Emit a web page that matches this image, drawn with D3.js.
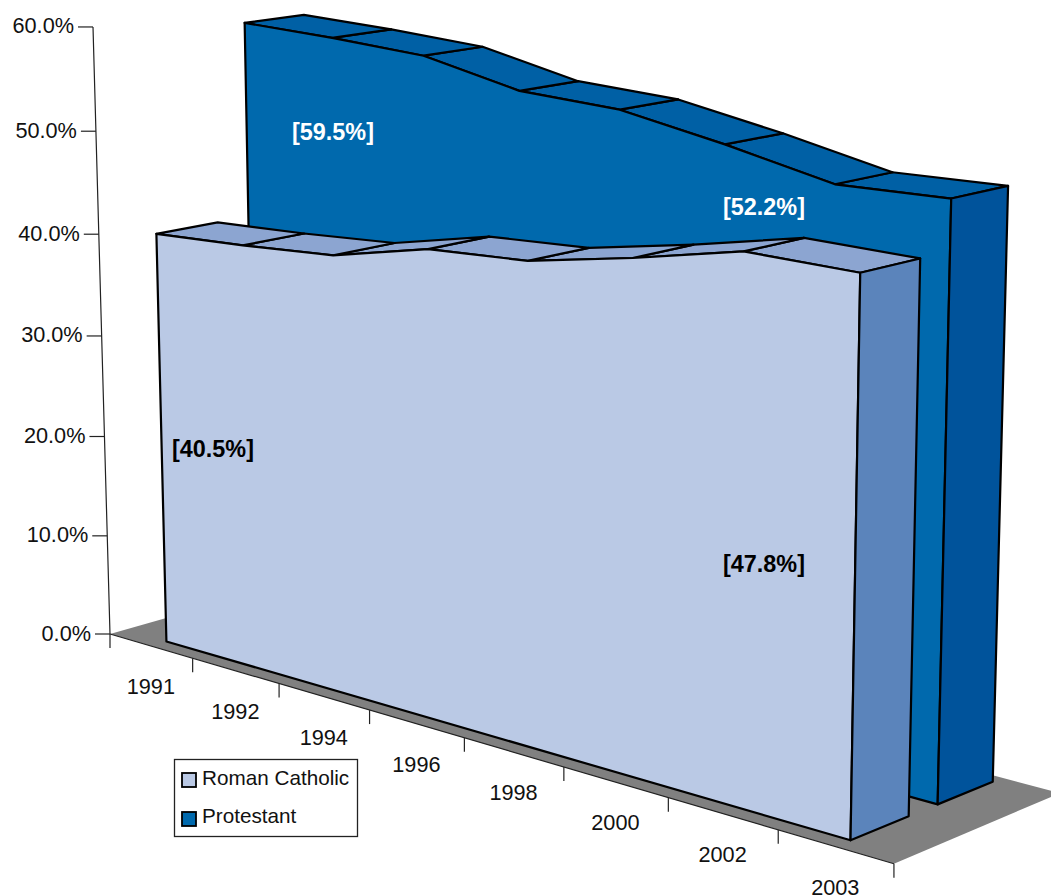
<!DOCTYPE html>
<html>
<head>
<meta charset="utf-8">
<script src="https://cdn.jsdelivr.net/npm/d3@7"></script>
<style>
  html, body { margin: 0; padding: 0; background: #fff; }
  text { font-family: "Liberation Sans", Arial, sans-serif; fill: #111; }
</style>
</head>
<body>
<div id="chart"></div>
<script>
var years = ["1991", "1992", "1994", "1996", "1998", "2000", "2002", "2003"];
var seriesNames = ["Roman Catholic", "Protestant"];
var romanCatholic = [40.5, 40.9, 41.5, 43.6, 44.1, 45.9, 48.0, 47.8];
var protestant = [59.5, 59.1, 58.5, 56.4, 55.9, 54.1, 52.0, 52.2];
var yTicks = [0, 10, 20, 30, 40, 50, 60];

var width = 1051, height = 895;

var svg = d3.select("#chart")
  .append("svg")
  .attr("width", width)
  .attr("height", height)
  .style("display", "block");

// scales give 0..1 along each edge of the 3D box
var xScale = d3.scaleBand().domain(years).range([0, 1]);
var yScale = d3.scaleLinear().domain([0, 60]).range([0, 1]);
var zScale = d3.scaleBand().domain(seriesNames).range([0, 1.028]).paddingInner(0.3385).paddingOuter(0.169);

// perspective of the box, tuned against the picture
var origin = [110, 634], uVec = [627.5, 78.6], vVec = [-20.3, -608], dVec = [184.5, -22.5];
var pU = -0.175, pV = -0.0355, pD = 0.045;

function project(u, v, d) {
  var w = 1 + pU * u + pV * v + pD * d;
  return [
    (origin[0] + u * uVec[0] + v * vVec[0] + d * dVec[0]) / w,
    (origin[1] + u * uVec[1] + v * vVec[1] + d * dVec[1]) / w
  ];
}

var line = d3.line();
function poly(pts) { return line(pts) + "Z"; }

// floor
svg.append("path")
  .attr("d", poly([project(0, 0, 0), project(1, 0, 0), project(1, 0, 1), project(0, 0, 1)]))
  .attr("fill", "#808080");

// axes
var axis = svg.append("g").attr("stroke", "#222").attr("stroke-width", 1.2).attr("fill", "none");
var axisTop = project(0, 1, 0), axisBase = project(0, 0, 0);
axis.append("path").attr("d", line([axisTop, axisBase, [axisBase[0], axisBase[1] + 14]]));
axis.append("path").attr("d", line([axisBase, project(1, 0, 0)]));

yTicks.forEach(function(t) {
  var p = project(0, yScale(t), 0);
  axis.append("path").attr("d", line([p, [p[0] - 15, p[1]]]));
  svg.append("text")
    .attr("x", p[0] - 19)
    .attr("y", p[1] + 6.5)
    .attr("text-anchor", "end")
    .attr("font-size", 21.7)
    .text(d3.format(".1f")(t) + "%");
});

years.forEach(function(y, i) {
  var p = project(xScale.step() * (i + 1), 0, 0);
  axis.append("path").attr("d", line([p, [p[0], p[1] + 14]]));
  var c = project(xScale(y) + xScale.bandwidth() / 2, 0, 0);
  svg.append("text")
    .attr("x", c[0])
    .attr("y", c[1] + 48)
    .attr("text-anchor", "middle")
    .attr("font-size", 21.7)
    .text(y);
});

function drawArea(values, name, colors) {
  var g = svg.append("g")
    .attr("stroke", "#000")
    .attr("stroke-width", 2.2)
    .attr("stroke-linejoin", "round");
  var d0 = zScale(name), d1 = d0 + zScale.bandwidth();
  var us = years.map(function(y) { return xScale(y) + xScale.bandwidth() / 2; });
  var vs = values.map(function(v) { return yScale(v); });
  var last = us.length - 1;

  // top strips
  for (var i = last - 1; i >= 0; i--) {
    g.append("path")
      .attr("d", poly([
        project(us[i], vs[i], d0), project(us[i + 1], vs[i + 1], d0),
        project(us[i + 1], vs[i + 1], d1), project(us[i], vs[i], d1)
      ]))
      .attr("fill", colors.top);
  }

  // front face
  var front = us.map(function(u, i) { return project(u, vs[i], d0); });
  front.push(project(us[last], 0, d0));
  front.push(project(us[0], 0, d0));
  g.append("path").attr("d", poly(front)).attr("fill", colors.front);

  // right side
  g.append("path")
    .attr("d", poly([
      project(us[last], vs[last], d0), project(us[last], vs[last], d1),
      project(us[last], 0, d1), project(us[last], 0, d0)
    ]))
    .attr("fill", colors.side);
}

var colorsProt = { front: "#0069AD", top: "#0060A5", side: "#00539B" };
var colorsCath = { front: "#BAC9E5", top: "#8CA5D1", side: "#5B84BB" };

drawArea(protestant, "Protestant", colorsProt);
drawArea(romanCatholic, "Roman Catholic", colorsCath);

// data labels at the first and last year
function dataLabel(x, y, v, fill) {
  svg.append("text")
    .attr("x", x)
    .attr("y", y)
    .attr("text-anchor", "middle")
    .attr("font-size", 23.4)
    .attr("font-weight", "bold")
    .style("fill", fill)
    .text("[" + d3.format(".1f")(v) + "%]");
}
dataLabel(333, 140, protestant[0], "#fff");
dataLabel(764, 215, protestant[protestant.length - 1], "#fff");
dataLabel(213, 457, romanCatholic[0], "#000");
dataLabel(764, 572, romanCatholic[romanCatholic.length - 1], "#000");

// legend
var legend = svg.append("g");
legend.append("rect")
  .attr("x", 174.5).attr("y", 759.5)
  .attr("width", 183).attr("height", 77)
  .attr("fill", "#fff").attr("stroke", "#222").attr("stroke-width", 1.3);
seriesNames.forEach(function(n, i) {
  var yy = 773 + i * 39;
  legend.append("rect")
    .attr("x", 182).attr("y", yy)
    .attr("width", 14).attr("height", 14)
    .attr("fill", i === 0 ? colorsCath.front : colorsProt.front)
    .attr("stroke", "#000").attr("stroke-width", 1.8);
  legend.append("text")
    .attr("x", 202).attr("y", yy + 12 - i)
    .attr("font-size", 20.7)
    .text(n);
});
</script>
</body>
</html>
